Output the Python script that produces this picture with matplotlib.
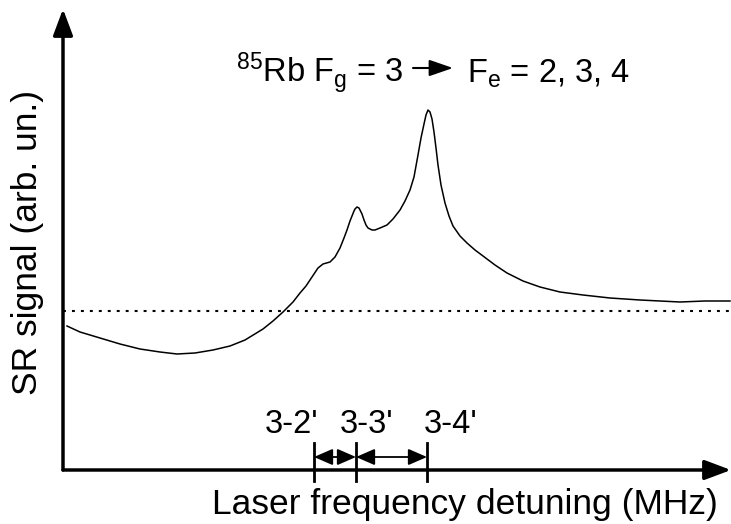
import matplotlib
matplotlib.use("Agg")
import matplotlib.pyplot as plt

# ============================================================
# DATA (arbitrary units)
# ============================================================

detuning = [4, 17, 37, 57, 77, 97, 114, 132, 150, 167, 182, 200, 210, 220,
            230, 237, 243, 247, 251, 255, 260, 267, 272, 277, 281, 284, 287,
            289, 291, 292, 294, 296, 297, 299, 301, 303, 305, 309, 312, 317,
            324, 330, 337, 342, 347, 351, 355, 358, 361, 363, 365, 367, 369,
            371, 373, 375, 378, 382, 386, 390, 397, 404, 412, 420, 432, 444,
            460, 477, 497, 520, 547, 577, 597, 617, 642, 667]
signal = [144, 138, 132, 126, 121, 118, 116, 117, 120, 124, 130, 141, 149,
          158, 168, 177, 184, 190, 196, 202, 206, 208, 213, 222, 232, 240,
          249, 254, 259, 261, 263, 262, 260, 256, 250, 245, 242, 240, 240,
          242, 245, 251, 260, 269, 280, 293, 315, 332, 346, 355, 360, 358,
          351, 338, 322, 305, 285, 267, 254, 244, 234, 227, 220, 214, 205,
          197, 189, 183, 178, 175, 172, 170, 169, 168, 169, 169]

baseline_level = 159

transition_labels = ["3-2'", "3-3'", "3-4'"]
transition_pos = [251, 293, 364]

# ============================================================
# STYLE
# ============================================================

plt.rcParams["font.family"] = ["Liberation Sans", "DejaVu Sans"]
plt.rcParams["mathtext.fontset"] = "custom"
plt.rcParams["mathtext.rm"] = "Liberation Sans"
plt.rcParams["mathtext.it"] = "Liberation Sans:italic"
plt.rcParams["mathtext.default"] = "regular"

FS = 23.5
FS_LABEL = 25.5

fig = plt.figure(figsize=(7.31, 5.24), dpi=100)
ax = fig.add_axes([0, 0, 1, 1])
ax.set_xlim(-63, 668)
ax.set_ylim(-54, 470)
ax.axis("off")

# axes with arrow heads
ax.annotate("", xy=(0, 461), xytext=(0, 0),
            arrowprops=dict(arrowstyle="-|>,head_length=0.8,head_width=0.3",
                            mutation_scale=20, lw=2.5, color="black",
                            shrinkA=0, shrinkB=0))
ax.annotate("", xy=(668, 0), xytext=(0, 0),
            arrowprops=dict(arrowstyle="-|>,head_length=0.8,head_width=0.3",
                            mutation_scale=20, lw=2.5, color="black",
                            shrinkA=0, shrinkB=0))

# signal and baseline
ax.plot(detuning, signal, color="black", lw=1.1)
ax.axhline(baseline_level, xmin=63 / 731, xmax=1, color="black", lw=1.5,
           linestyle=(0, (1.4, 2.9)))

# transition markers
for xp in transition_pos:
    ax.plot([xp, xp], [-11, 27], color="black", lw=2)
for a, b in zip(transition_pos[:-1], transition_pos[1:]):
    ax.annotate("", xy=(b, 13), xytext=(a, 13),
                arrowprops=dict(arrowstyle="<|-|>,head_length=1.15,head_width=0.5",
                                mutation_scale=10, lw=1.3, color="black",
                                shrinkA=0, shrinkB=0))

ax.text(255, 37, transition_labels[0], fontsize=FS, ha="right", va="baseline")
ax.text(277, 37, transition_labels[1], fontsize=FS, ha="left", va="baseline")
ax.text(361, 37, transition_labels[2], fontsize=FS, ha="left", va="baseline")

# title
ax.text(340, 387, r"$^{85}$Rb F$_g$ = 3", fontsize=FS, ha="right", va="baseline")
ax.annotate("", xy=(390, 402), xytext=(350, 402),
            arrowprops=dict(arrowstyle="-|>,head_length=1.45,head_width=0.5",
                            mutation_scale=10, lw=1.5, color="black",
                            shrinkA=0, shrinkB=0))
ax.text(404, 387, r"F$_e$ = 2, 3, 4", fontsize=FS, ha="left", va="baseline")

# axis labels
ax.text(402, -44, "Laser frequency detuning (MHz)", fontsize=FS_LABEL,
        ha="center", va="baseline")
ax.text(-35, 228, "SR signal (arb. un.)", fontsize=FS_LABEL, rotation=90,
        ha="center", va="center")

fig.savefig("out.png", dpi=100)
